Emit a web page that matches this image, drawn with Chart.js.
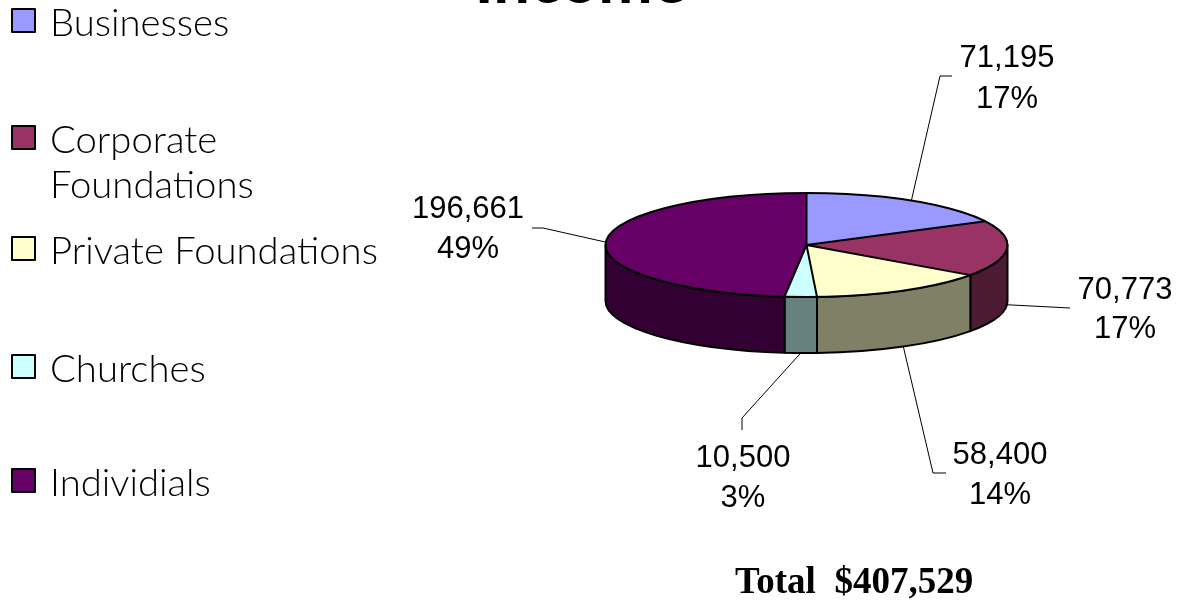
<!DOCTYPE html>
<html><head><meta charset="utf-8">
<style>html,body{margin:0;padding:0;background:#fff;overflow:hidden}#wrap{position:relative;width:1182px;height:600px}canvas{display:block}</style>
<script src="https://cdn.jsdelivr.net/npm/chart.js@4.4.1/dist/chart.umd.min.js"></script>
</head><body><div id="wrap"><canvas id="c" width="1182" height="600"></canvas></div>
<script>
// ---- data ----
const categories = ['Businesses', 'Corporate Foundations', 'Private Foundations', 'Churches', 'Individials'];
const amounts = [71195, 70773, 58400, 10500, 196661];
const percentLabels = ['17%', '17%', '14%', '3%', '49%'];
const titleText = 'Income';
const totalText = 'Total  $407,529';

// ---- styles ----
const topColors = ['#9999FF', '#993366', '#FFFFCC', '#CCFFFF', '#660066'];
const sideColors = ['#4D4D80', '#4D1A33', '#808066', '#668080', '#330033'];
const SQUASH = 52 / 201, DEPTH = 56, CY = 245;
const labelLayout = [
  { elbow: [940, 76], end: [952, 76], tx: 1007, ty: [67, 108] },
  { elbow: null, end: [1070, 308], tx: 1125, ty: [299, 338] },
  { elbow: [933, 473], end: [946, 473], tx: 1000, ty: [464, 504] },
  { elbow: [742, 418], end: [742, 430], tx: 743, ty: [467, 507] },
  { elbow: [543, 228], end: [532, 228], tx: 468, ty: [218, 258] }
];
const legendBaselines = [36, 153, 264, 382, 496];
const legendWrap = { 1: ['Corporate', 'Foundations'] };

const pie3d = {
  id: 'pie3d',
  beforeDatasetsDraw(chart) {
    const ctx = chart.ctx;
    const arcs = chart.getDatasetMeta(0).data;
    const a0 = arcs[0];
    const cx = a0.x, r = a0.outerRadius, ry = r * SQUASH;
    arcs.forEach((arc, i) => {
      const s = Math.max(arc.startAngle, 0), e = Math.min(arc.endAngle, Math.PI);
      if (e <= s) return;
      ctx.beginPath();
      ctx.ellipse(cx, CY, r, ry, 0, s, e, false);
      ctx.lineTo(cx + r * Math.cos(e), CY + ry * Math.sin(e) + DEPTH);
      ctx.ellipse(cx, CY + DEPTH, r, ry, 0, e, s, true);
      ctx.closePath();
      ctx.fillStyle = sideColors[i];
      ctx.fill();
      ctx.lineWidth = 2;
      ctx.lineJoin = 'round';
      ctx.strokeStyle = '#000';
      ctx.stroke();
    });
    ctx.save();
    ctx.translate(0, CY);
    ctx.scale(1, SQUASH);
    ctx.translate(0, -a0.y);
  },
  afterDatasetsDraw(chart) {
    const ctx = chart.ctx;
    ctx.restore();
    const arcs = chart.getDatasetMeta(0).data;
    const a0 = arcs[0];
    const cx = a0.x, r = a0.outerRadius, ry = r * SQUASH;
    ctx.save();
    ctx.strokeStyle = '#000';
    ctx.lineWidth = 2;
    ctx.lineJoin = 'round';
    ctx.beginPath();
    arcs.forEach(arc => {
      ctx.moveTo(cx, CY);
      ctx.lineTo(cx + r * Math.cos(arc.startAngle), CY + ry * Math.sin(arc.startAngle));
    });
    ctx.stroke();
    ctx.beginPath();
    ctx.ellipse(cx, CY, r, ry, 0, 0, Math.PI * 2);
    ctx.stroke();
    ctx.restore();
  },
  afterDraw(chart) {
    const ctx = chart.ctx;
    const arcs = chart.getDatasetMeta(0).data;
    const a0 = arcs[0];
    const cx = a0.x, r = a0.outerRadius, ry = r * SQUASH;
    ctx.save();
    // leader lines + labels
    ctx.strokeStyle = '#000';
    ctx.lineWidth = 1;
    ctx.fillStyle = '#000';
    ctx.font = '31px "Liberation Sans", Arial, sans-serif';
    ctx.textAlign = 'center';
    ctx.textBaseline = 'alphabetic';
    arcs.forEach((arc, i) => {
      const m = (arc.startAngle + arc.endAngle) / 2;
      const sn = Math.sin(m);
      const ax = cx + r * Math.cos(m);
      const ay = CY + ry * sn + (sn > 0 ? DEPTH : 0);
      const L = labelLayout[i];
      ctx.beginPath();
      ctx.moveTo(ax, ay);
      if (L.elbow) ctx.lineTo(L.elbow[0], L.elbow[1]);
      ctx.lineTo(L.end[0], L.end[1]);
      ctx.stroke();
      ctx.fillText(amounts[i].toLocaleString('en-US'), L.tx, L.ty[0]);
      ctx.fillText(percentLabels[i], L.tx, L.ty[1]);
    });
    // legend
    ctx.textAlign = 'left';
    ctx.font = '300 100px Lato, "Noto Sans", sans-serif';
    const fs = 100 * 328 / ctx.measureText('Private Foundations').width;
    ctx.font = `300 ${fs}px Lato, "Noto Sans", sans-serif`;
    categories.forEach((c, i) => {
      const b = legendBaselines[i];
      ctx.fillStyle = topColors[i];
      ctx.fillRect(12, b - 27, 23, 23);
      ctx.lineWidth = 2;
      ctx.strokeStyle = '#000';
      ctx.strokeRect(12, b - 27, 23, 23);
      ctx.fillStyle = '#000';
      const lines = legendWrap[i] || [c];
      lines.forEach((t, k) => ctx.fillText(t, 50, b + k * 45));
    });
    // title (mostly above the canvas top)
    ctx.textAlign = 'center';
    ctx.font = 'bold 100px Lato, sans-serif';
    const ts = 100 * 213 / ctx.measureText(titleText).width;
    ctx.font = `bold ${ts}px Lato, sans-serif`;
    ctx.fillText(titleText, 581, 3);
    // total
    ctx.textAlign = 'left';
    ctx.font = 'bold 37px "Liberation Serif", "Times New Roman", serif';
    ctx.fillText(totalText, 735, 593);
    ctx.restore();
  }
};

new Chart(document.getElementById('c').getContext('2d'), {
  type: 'pie',
  data: {
    labels: categories,
    datasets: [{ data: amounts, backgroundColor: topColors, borderWidth: 0, hoverOffset: 0, clip: false }]
  },
  options: {
    responsive: false,
    animation: false,
    events: [],
    layout: { padding: { left: 605, right: 174, top: 99, bottom: 99 } },
    plugins: { legend: { display: false }, tooltip: { enabled: false }, title: { display: false } }
  },
  plugins: [pie3d]
});
</script>
</body></html>
